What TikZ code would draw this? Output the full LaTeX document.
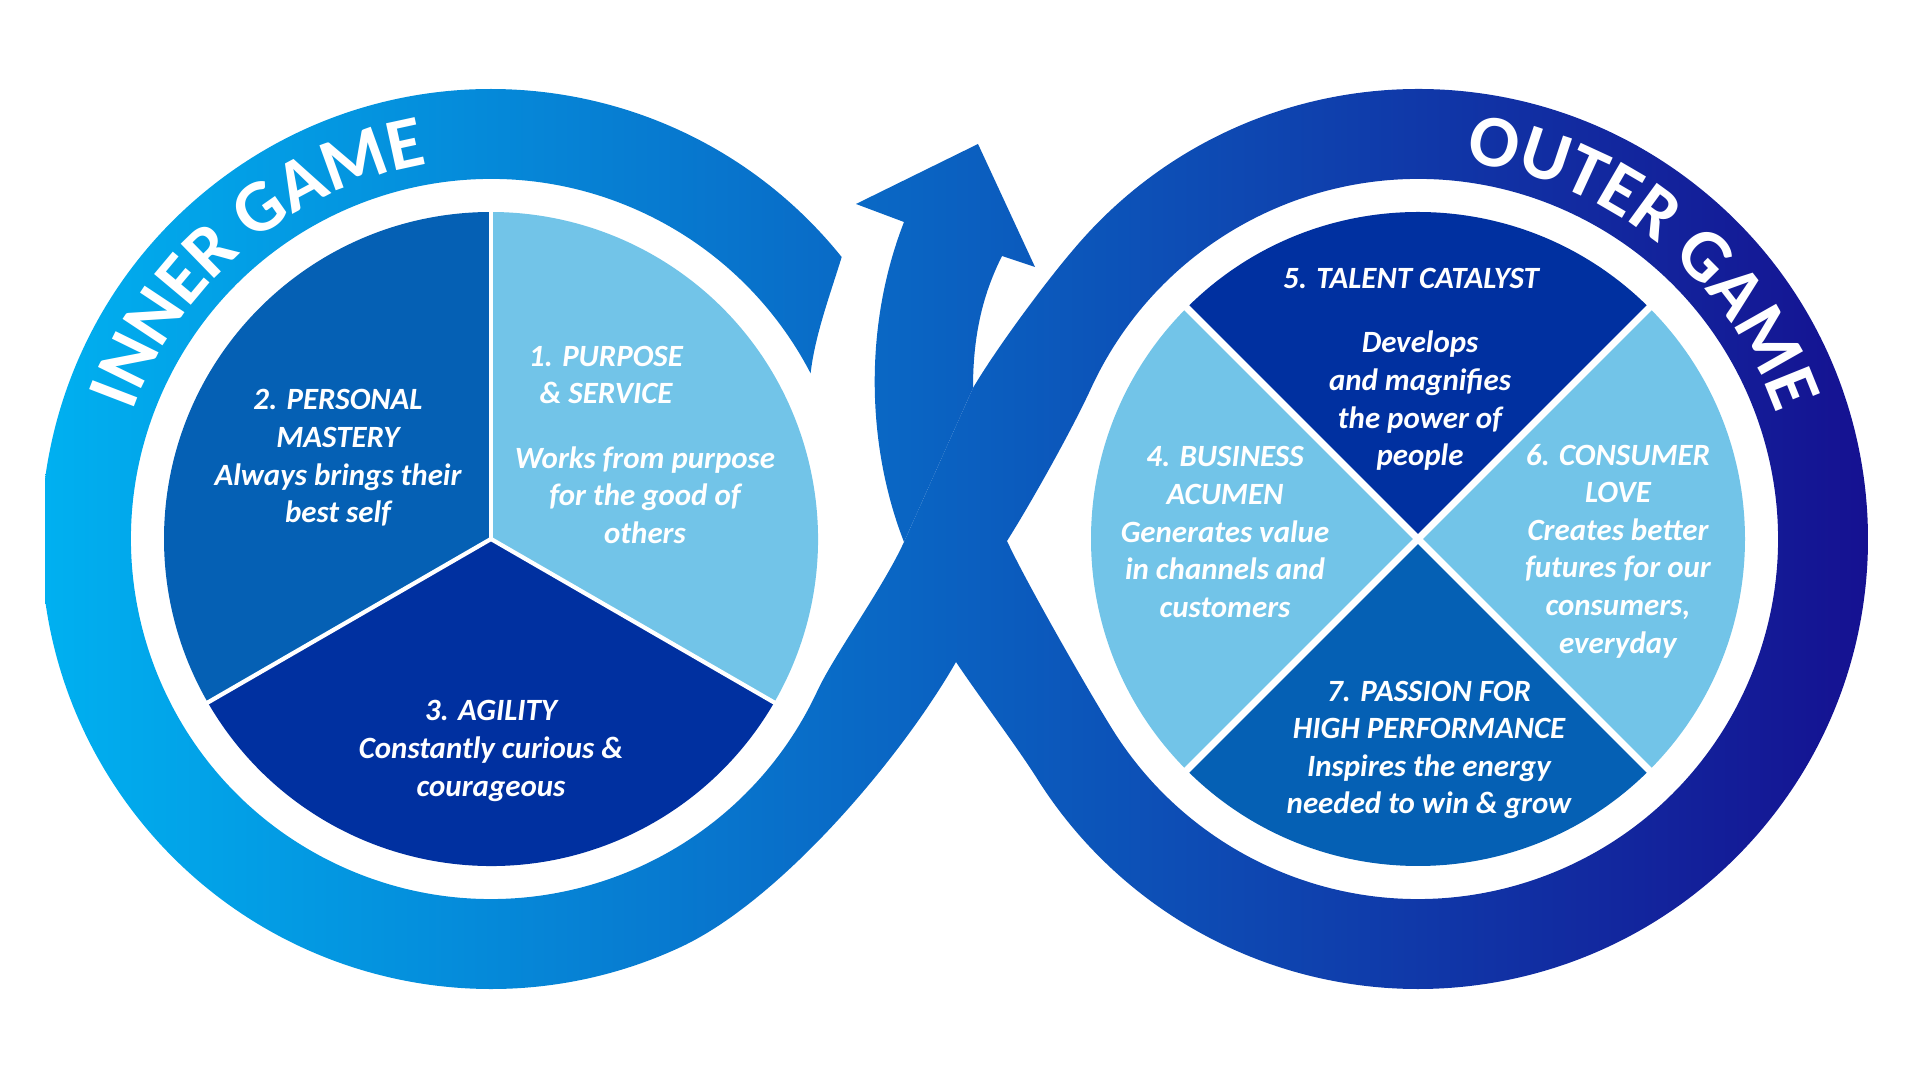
\documentclass[tikz,border=0pt]{standalone}
\usepackage{fontspec}
\setmainfont{Carlito}
\usetikzlibrary{calc, decorations.text}

\definecolor{lightseg}{RGB}{114,196,232}
\definecolor{midseg}{RGB}{5,96,180}
\definecolor{darkseg}{RGB}{0,48,160}
\definecolor{bandL}{RGB}{0,176,240}
\definecolor{bandM}{RGB}{10,104,200}
\definecolor{bandR}{RGB}{21,17,145}

\begin{document}
\begin{tikzpicture}[x=0.01cm, y=0.01cm,
    band/.style={left color=bandL, middle color=bandM, right color=bandR},
    sep/.style={draw=white, line width=1.2pt},
    lbl/.style={text=white, align=center, inner sep=0pt,
        font=\fontsize{8.8pt}{10.7pt}\selectfont\bfseries\itshape},
    ring/.style={decorate, decoration={text along path, text align=center,
        text color=white, text={|\fontsize{21pt}{21pt}\selectfont\bfseries|#1}}}]

\useasboundingbox (0,0) rectangle (1920,-1080);
\coordinate (L) at (491,-539);
\coordinate (R) at (1418,-539);

% left loop (cut at the top, runs into the crossing)
\begin{scope}
\clip ($(L)+(38.8:450)$) arc[start angle=38.8, end angle=295, radius=450]
   .. controls (781,-900) and (901,-758) .. (956,-662)
   -- (1007,-541) -- (973,-388) -- (904,-542)
   .. controls (883,-588) and (834,-655) .. ($(L)+(-25:360)$)
   arc[start angle=335, end angle=27.4, radius=360]
   .. controls (815,-335) and (830,-295) .. cycle;
\shade[band] (45,-40) rectangle (1868,-1040);
\end{scope}

% right loop
\begin{scope}[even odd rule]
\clip (973,-388) .. controls (996,-349) and (1044,-284) .. ($(R)+(140:450)$)
   arc[start angle=140, end angle=-148, radius=450]
   .. controls (1015,-744) and (978,-695) .. (956,-662) -- cycle
   (1007,-541) .. controls (1031,-503) and (1073,-428) .. ($(R)+(155:360)$)
   arc[start angle=155, end angle=-148, radius=360]
   .. controls (1089,-692) and (1026,-582) .. cycle;
\shade[band] (45,-40) rectangle (1868,-1040);
\end{scope}

% shaft and arrow head
\begin{scope}
\clip (904,-542) .. controls (868,-450) and (862,-330) .. (904,-222)
   -- (856,-204) -- (978,-144) -- (1035,-267) -- (1002,-256)
   .. controls (985,-290) and (973,-330) .. (973,-388) -- cycle;
\shade[band] (45,-40) rectangle (1868,-1040);
\end{scope}

% inner game pie
\fill[lightseg] (L) -- ++(-30:327) arc[start angle=-30, end angle=90, radius=327] -- cycle;
\fill[midseg] (L) -- ++(90:327) arc[start angle=90, end angle=210, radius=327] -- cycle;
\fill[darkseg] (L) -- ++(210:327) arc[start angle=210, end angle=330, radius=327] -- cycle;
\foreach \a in {90,210,330} \draw[sep] (L) -- ++(\a:330);

% outer game pie
\fill[darkseg] (R) -- ++(45:327) arc[start angle=45, end angle=135, radius=327] -- cycle;
\fill[lightseg] (R) -- ++(135:327) arc[start angle=135, end angle=225, radius=327] -- cycle;
\fill[midseg] (R) -- ++(225:327) arc[start angle=225, end angle=315, radius=327] -- cycle;
\fill[lightseg] (R) -- ++(-45:327) arc[start angle=-45, end angle=45, radius=327] -- cycle;
\foreach \a in {45,135,225,315} \draw[sep, line width=2pt] (R) -- ++(\a:330);

% ring titles
\path[ring=INNER GAME] ($(L)+(170:380)$) arc[start angle=170, end angle=90, radius=380];
\path[ring=OUTER GAME] ($(R)+(101:380)$) arc[start angle=101, end angle=1, radius=380];

% labels
\node[lbl] (purpose) at (606,-375) {1. PURPOSE\\\& SERVICE};
\node[lbl] (purposetxt) at (645,-495) {Works from purpose\\for the good of\\others};
\node[lbl] (mastery) at (338,-458) {2. PERSONAL\\MASTERY\\Always brings their\\best self};
\node[lbl] (agility) at (491,-751) {3. AGILITY\\Constantly curious \&\\courageous};
\node[lbl] (talent) at (1411,-278) {5. TALENT CATALYST};
\node[lbl] (talenttxt) at (1420,-401) {Develops\\and magnifies\\the power of\\people};
\node[lbl] (acumen) at (1225,-532) {4. BUSINESS\\ACUMEN\\Generates value\\in channels and\\customers};
\node[lbl] (consumer) at (1618,-551) {6. CONSUMER\\LOVE\\Creates better\\futures for our\\consumers,\\everyday};
\node[lbl] (passion) at (1429,-750) {7. PASSION FOR\\HIGH PERFORMANCE\\Inspires the energy\\needed to win \& grow};

\end{tikzpicture}
\end{document}
